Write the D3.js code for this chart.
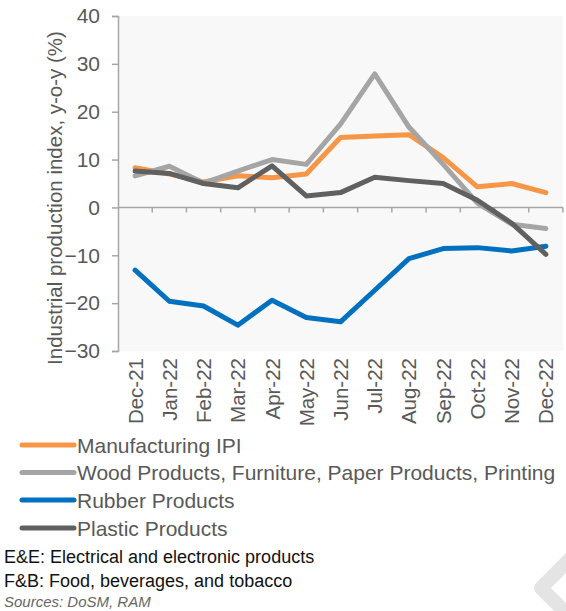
<!DOCTYPE html>
<html>
<head>
<meta charset="utf-8">
<script src="https://cdn.jsdelivr.net/npm/d3@7"></script>
<style>
  html, body { margin: 0; padding: 0; background: #fff; }
  svg { display: block; font-family: "Liberation Sans", Arial, sans-serif; }
</style>
</head>
<body>
<svg id="chart" width="566" height="611"></svg>
<script>
// Monthly categories
const months = ["Dec-21","Jan-22","Feb-22","Mar-22","Apr-22","May-22","Jun-22",
                "Jul-22","Aug-22","Sep-22","Oct-22","Nov-22","Dec-22"];

// Year-on-year growth (%) per series
const manufacturingIPI = [8.3, 7.0, 5.3, 6.6, 6.2, 7.0, 14.6, 14.9, 15.2, 10.4, 4.3, 5.0, 3.1];
const woodPaper        = [6.6, 8.6, 5.1, 7.6, 10.0, 9.0, 17.4, 27.9, 16.8, 9.0, 0.9, -3.5, -4.4];
const rubberProducts   = [-13.1, -19.6, -20.6, -24.6, -19.4, -23.0, -23.9, -17.3, -10.7, -8.6, -8.4, -9.1, -8.1];
const plasticProducts  = [7.6, 7.1, 5.0, 4.1, 8.7, 2.4, 3.1, 6.3, 5.6, 5.0, 1.5, -3.3, -9.8];

const seriesNames  = ["Manufacturing IPI", "Wood Products, Furniture, Paper Products, Printing",
                      "Rubber Products", "Plastic Products"];
const seriesColors = ["#f79646", "#a5a5a5", "#0070c0", "#606060"];
const seriesValues = [manufacturingIPI, woodPaper, rubberProducts, plasticProducts];

const yTicks = [40, 30, 20, 10, 0, -10, -20, -30];
const yTitle = "Industrial production index, y-o-y (%)";
const notes  = ["E&E: Electrical and electronic products", "F&B: Food, beverages, and tobacco"];
const source = "Sources: DoSM, RAM";

const svg = d3.select("#chart");
const plot = { left: 118, right: 563, top: 16, bottom: 351 };
const textGrey = "#595959";
const axisGrey = "#a6a6a6";

const x = d3.scaleBand().domain(months).range([plot.left, plot.right]).padding(0);
const y = d3.scaleLinear().domain([-30, 40]).range([plot.bottom, plot.top]);

// plot background
svg.append("rect")
  .attr("x", plot.left).attr("y", plot.top)
  .attr("width", plot.right - plot.left).attr("height", plot.bottom - plot.top)
  .attr("fill", "#f8f8f8");

// y axis
const yAxis = svg.append("g")
  .attr("transform", `translate(${plot.left},0)`)
  .call(d3.axisLeft(y).tickValues(yTicks).tickSize(6).tickPadding(12).tickFormat(d3.format("d")));
yAxis.select(".domain").attr("stroke", axisGrey).attr("stroke-width", 1.5);
yAxis.selectAll(".tick line").attr("stroke", axisGrey).attr("stroke-width", 1.5);
yAxis.selectAll(".tick text").attr("fill", textGrey).attr("font-size", 21)
  .attr("font-family", "Liberation Sans, Arial, sans-serif");

// x axis along zero, ticks at band boundaries
const zeroY = y(0);
const xAxisG = svg.append("g");
xAxisG.append("line")
  .attr("x1", plot.left).attr("x2", plot.right)
  .attr("y1", zeroY).attr("y2", zeroY)
  .attr("stroke", axisGrey).attr("stroke-width", 1.5);
xAxisG.selectAll("line.tk")
  .data(months)
  .join("line")
  .attr("class", "tk")
  .attr("x1", d => x(d) + x.bandwidth())
  .attr("x2", d => x(d) + x.bandwidth())
  .attr("y1", zeroY).attr("y2", zeroY + 5)
  .attr("stroke", axisGrey).attr("stroke-width", 1.5);

// month labels below plot, rotated
svg.append("g").selectAll("text")
  .data(months)
  .join("text")
  .attr("transform", d => `translate(${x(d) + x.bandwidth() / 2 + 7.5},${plot.bottom + 7}) rotate(-90)`)
  .attr("text-anchor", "end")
  .attr("fill", textGrey)
  .attr("font-size", 20.5)
  .text(d => d);

// y axis title
svg.append("text")
  .attr("transform", `translate(62,198) rotate(-90)`)
  .attr("text-anchor", "middle")
  .attr("fill", textGrey)
  .attr("font-size", 20.5)
  .text(yTitle);

// series lines
const line = d3.line()
  .x((d, i) => x(months[i]) + x.bandwidth() / 2)
  .y(d => y(d));

svg.append("g").selectAll("path")
  .data(seriesValues)
  .join("path")
  .attr("d", d => line(d))
  .attr("fill", "none")
  .attr("stroke", (d, i) => seriesColors[i])
  .attr("stroke-width", 5)
  .attr("stroke-linejoin", "round")
  .attr("stroke-linecap", "round");

// legend
const legendY = [445, 472.5, 500, 528];
const legend = svg.append("g").selectAll("g")
  .data(seriesNames)
  .join("g")
  .attr("transform", (d, i) => `translate(0,${legendY[i]})`);
legend.append("line")
  .attr("x1", 22).attr("x2", 74).attr("y1", 0).attr("y2", 0)
  .attr("stroke", (d, i) => seriesColors[i])
  .attr("stroke-width", 5)
  .attr("stroke-linecap", "round");
legend.append("text")
  .attr("x", 77).attr("y", 7.5)
  .attr("fill", textGrey)
  .attr("font-size", 21)
  .text(d => d);

// footnotes
svg.append("g").selectAll("text")
  .data(notes)
  .join("text")
  .attr("x", 4)
  .attr("y", (d, i) => 563 + i * 24)
  .attr("fill", "#111")
  .attr("font-size", 18)
  .text(d => d);
svg.append("text")
  .attr("x", 4).attr("y", 607)
  .attr("fill", "#666")
  .attr("font-size", 15)
  .attr("font-style", "italic")
  .text(source);

// corner mark
svg.append("path")
  .attr("d", "M541,588 L575,554 L609,588 L575,622 Z")
  .attr("fill", "none")
  .attr("stroke", "#e4e4e4")
  .attr("stroke-width", 14)
  .attr("stroke-linejoin", "round");
</script>
</body>
</html>
